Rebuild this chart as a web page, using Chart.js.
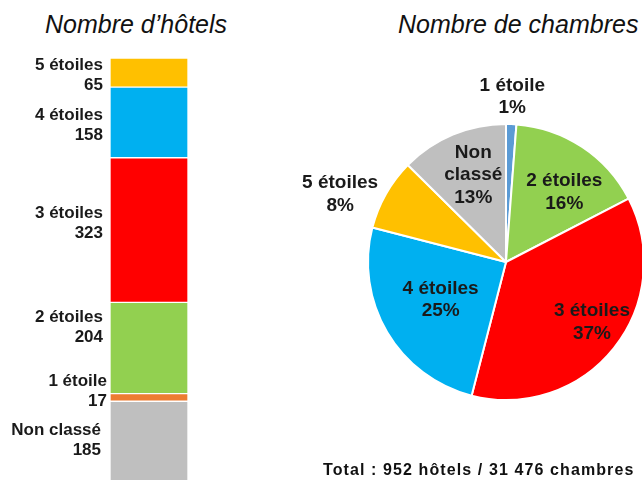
<!DOCTYPE html>
<html lang="fr">
<head>
<meta charset="utf-8">
<script src="https://cdn.jsdelivr.net/npm/chart.js@4.4.0/dist/chart.umd.min.js"></script>
<style>
  html, body { margin: 0; padding: 0; background: #fff; }
  body { width: 642px; height: 480px; overflow: hidden; position: relative; font-family: "Liberation Sans", Arial, sans-serif; }
  .title { position: absolute; top: 10px; font-style: italic; font-size: 25px; line-height: 28px; color: #111; white-space: nowrap; }
  #hotelTitle { left: 45px; }
  #roomTitle { left: 398px; }
  #total { position: absolute; left: 323px; top: 461px; font-weight: bold; font-size: 16px; line-height: 18px; letter-spacing: 1.1px; white-space: nowrap; color: #111; }
  #barChart { position: absolute; left: 0; top: 0; }
  #pieChart { position: absolute; left: 300px; top: 0; }
</style>
</head>
<body>
<div class="title" id="hotelTitle">Nombre d’hôtels</div>
<div class="title" id="roomTitle">Nombre de chambres</div>
<canvas id="barChart" width="300" height="500"></canvas>
<canvas id="pieChart" width="412" height="480"></canvas>
<div id="total">Total : 952 hôtels / 31 476 chambres</div>
<script>
// --- données : hôtels (empilés du bas vers le haut)
const hotelCategories = ['Non classé', '1 étoile', '2 étoiles', '3 étoiles', '4 étoiles', '5 étoiles'];
const hotelCounts = [185, 17, 204, 323, 158, 65];
const hotelColors = ['#BFBFBF', '#ED7D31', '#92D050', '#FF0000', '#00B0F0', '#FFC000'];

// --- données : chambres (sens horaire depuis midi)
const roomCategories = ['1 étoile', '2 étoiles', '3 étoiles', '4 étoiles', '5 étoiles', 'Non classé'];
const roomCounts = [380, 5100, 11520, 7870, 2640, 3966];
const roomColors = ['#5B9BD5', '#92D050', '#FF0000', '#00B0F0', '#FFC000', '#BFBFBF'];

// placement des étiquettes
const barLabelShiftY = [-2, -6, -21, -7, 3, 3];
const barLabelShiftX = [-2, 4, 0, 0, 0, 0];
const pieLabelRadius = [1.2, 0.66, 0.75, 0.55, 1.29, 0.69];
const pieLabelNudgeX = [0, 8, 5, 0, -11, 4];
const pieLabelNudgeY = [0, 6, -4, -1, 20, 1];

const FONT = '"Liberation Sans", Arial, sans-serif';

const barLabels = {
    id: 'barLabels',
    afterDatasetsDraw(chart) {
        const ctx = chart.ctx;
        ctx.save();
        ctx.font = 'bold 17px ' + FONT;
        ctx.fillStyle = '#1a1a1a';
        ctx.textAlign = 'right';
        ctx.textBaseline = 'middle';
        chart.data.datasets.forEach((ds, i) => {
            const bar = chart.getDatasetMeta(i).data[0];
            const { x, y, base, width } = bar.getProps(['x', 'y', 'base', 'width'], true);
            const cy = (y + base) / 2 + barLabelShiftY[i];
            const tx = x - width / 2 - 7 + barLabelShiftX[i];
            ctx.fillText(ds.label, tx, cy - 10);
            ctx.fillText(String(ds.data[0]), tx, cy + 10);
        });
        ctx.restore();
    }
};

const pieLabels = {
    id: 'pieLabels',
    afterDatasetsDraw(chart) {
        const ctx = chart.ctx;
        const total = roomCounts.reduce((a, b) => a + b, 0);
        ctx.save();
        ctx.font = 'bold 19px ' + FONT;
        ctx.fillStyle = '#1a1a1a';
        ctx.textAlign = 'center';
        ctx.textBaseline = 'middle';
        chart.getDatasetMeta(0).data.forEach((arc, i) => {
            const p = arc.getProps(['x', 'y', 'startAngle', 'endAngle', 'outerRadius'], true);
            const mid = (p.startAngle + p.endAngle) / 2;
            const r = p.outerRadius * pieLabelRadius[i];
            const cx = p.x + Math.cos(mid) * r + pieLabelNudgeX[i];
            const cy = p.y + Math.sin(mid) * r + pieLabelNudgeY[i];
            const lines = roomCategories[i] === 'Non classé' ? ['Non', 'classé'] : [roomCategories[i]];
            lines.push(Math.round(roomCounts[i] / total * 100) + '%');
            const lh = 22.5;
            const top = cy - (lines.length - 1) * lh / 2;
            lines.forEach((t, k) => ctx.fillText(t, cx, top + k * lh));
        });
        ctx.restore();
    }
};

new Chart(document.getElementById('barChart').getContext('2d'), {
    type: 'bar',
    data: {
        labels: ['Hôtels'],
        datasets: hotelCategories.map((c, i) => ({
            label: c,
            data: [hotelCounts[i]],
            backgroundColor: hotelColors[i],
            borderColor: '#fff',
            borderWidth: 1,
            borderSkipped: false,
            barPercentage: 1,
            categoryPercentage: 1
        }))
    },
    options: {
        responsive: false,
        animation: false,
        layout: { padding: { top: 58, bottom: 16, left: 110, right: 112 } },
        plugins: { legend: { display: false }, tooltip: { enabled: false } },
        scales: {
            x: { stacked: true, display: false },
            y: { stacked: true, display: false, min: 0, max: hotelCounts.reduce((a, b) => a + b, 0) }
        }
    },
    plugins: [barLabels]
});

new Chart(document.getElementById('pieChart').getContext('2d'), {
    type: 'pie',
    data: {
        labels: roomCategories,
        datasets: [{
            data: roomCounts,
            backgroundColor: roomColors,
            borderColor: '#fff',
            borderWidth: 2
        }]
    },
    options: {
        responsive: false,
        animation: false,
        layout: { padding: { top: 123, bottom: 79, left: 67, right: 67 } },
        plugins: { legend: { display: false }, tooltip: { enabled: false } }
    },
    plugins: [pieLabels]
});
</script>
</body>
</html>
